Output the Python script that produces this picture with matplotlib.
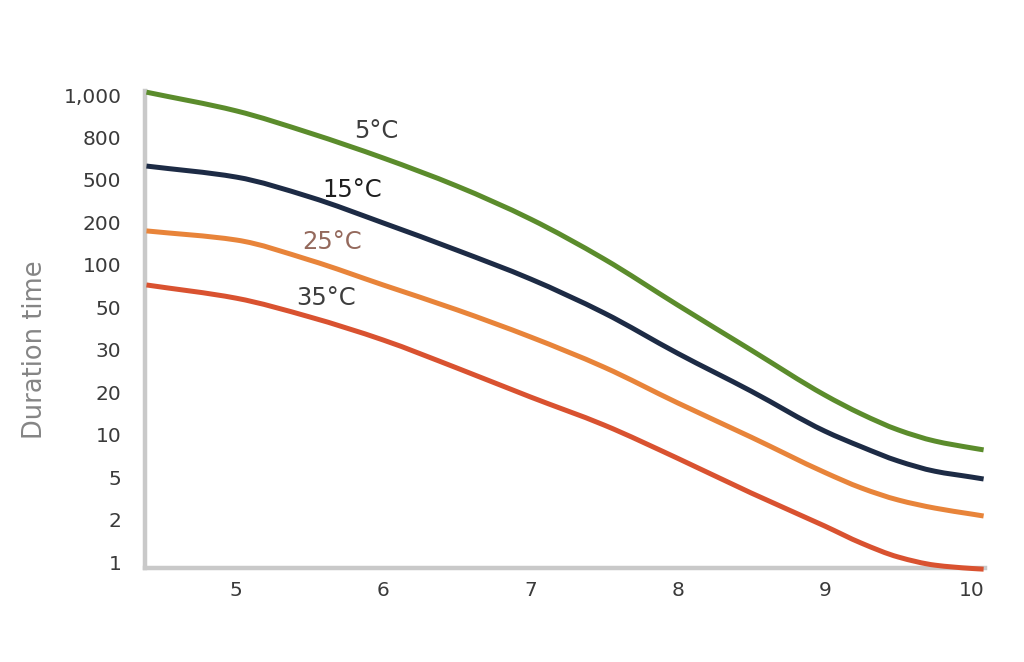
import numpy as np
import matplotlib
matplotlib.use("Agg")
import matplotlib.pyplot as plt
from matplotlib.path import Path
from matplotlib.patches import PathPatch
from matplotlib.ticker import FixedLocator, FixedFormatter, NullLocator

# ---- data ----
ph = [4.39, 5.0, 5.5, 6.0, 6.5, 7.0, 7.5, 8.0, 8.5, 9.0, 9.25, 9.5, 9.75, 10.0, 10.08]
t5 = [1015, 920, 819, 637, 438, 215, 110, 51.9, 29.9, 19.1, 14.0, 10.8, 9.0, 8.05, 7.8]
t15 = [583, 516, 346, 198, 127, 79.4, 46.7, 29.0, 20.2, 10.6, 8.2, 6.5, 5.5, 5.0, 4.8]
t25 = [174, 150, 108, 71.9, 48.5, 35, 25.4, 16.8, 9.6, 5.4, 3.95, 3.05, 2.56, 2.25, 2.16]
t35 = [72, 58, 44.5, 33.7, 25.2, 18.5, 11.7, 6.8, 3.55, 1.80, 1.36, 1.085, 0.95, 0.9, 0.89]

series_labels = ["5°C", "15°C", "25°C", "35°C"]
label_x = [5.95, 5.79, 5.65, 5.61]
label_y = [828, 401, 146, 58]

y_ticks = [1, 2, 5, 10, 20, 30, 50, 100, 200, 500, 800, 1000]
y_tick_labels = ["1", "2", "5", "10", "20", "30", "50", "100", "200", "500", "800", "1,000"]
x_ticks = [5, 6, 7, 8, 9, 10]
y_axis_label = "Duration time"

# ---- styles ----
colors = ["#5b8c2c", "#1d2b45", "#e8843a", "#d95230"]
label_colors = ["#3d3d3d", "#1e1e1e", "#94695c", "#3d3d3d"]

LOGT = np.log10(np.array(y_ticks, dtype=float))
IDX = np.arange(len(y_ticks), dtype=float)


def fwd(v):
    v = np.asarray(v, dtype=float)
    lv = np.log10(np.clip(v, 1e-9, None))
    out = np.interp(lv, LOGT, IDX)
    out = np.where(lv < LOGT[0], (lv - LOGT[0]) / (LOGT[1] - LOGT[0]), out)
    out = np.where(lv > LOGT[-1], IDX[-1] + (lv - LOGT[-1]) / (LOGT[-1] - LOGT[-2]), out)
    return out


def inv(i):
    i = np.asarray(i, dtype=float)
    out = np.interp(i, IDX, LOGT)
    out = np.where(i < 0, LOGT[0] + i * (LOGT[1] - LOGT[0]), out)
    out = np.where(i > IDX[-1], LOGT[-1] + (i - IDX[-1]) * (LOGT[-1] - LOGT[-2]), out)
    return 10 ** out


def smooth_path(xs, ys):
    """Monotone (PCHIP-style) Bezier path through the data points, built in
    the axis' scaled coordinates (x, scale(y))."""
    x = np.asarray(xs, dtype=float)
    y = fwd(ys)
    h = np.diff(x)
    d = np.diff(y) / h
    n = len(x)
    m = np.empty(n)
    m[0], m[-1] = d[0], d[-1]
    for k in range(1, n - 1):
        if d[k - 1] * d[k] <= 0:
            m[k] = 0.0
        else:
            w1 = 2 * h[k] + h[k - 1]
            w2 = h[k] + 2 * h[k - 1]
            m[k] = (w1 + w2) / (w1 / d[k - 1] + w2 / d[k])
    verts = [(x[0], y[0])]
    codes = [Path.MOVETO]
    for k in range(n - 1):
        dx = h[k]
        verts += [(x[k] + dx / 3, y[k] + m[k] * dx / 3),
                  (x[k + 1] - dx / 3, y[k + 1] - m[k + 1] * dx / 3),
                  (x[k + 1], y[k + 1])]
        codes += [Path.CURVE4] * 3
    return Path(verts, codes)


plt.rcParams["font.family"] = ["DejaVu Sans"]

fig = plt.figure(figsize=(10.24, 6.62), dpi=100)
ax = fig.add_axes([0.1416, 0.1414, 0.8204, 0.7215])
ax.set_yscale("function", functions=(fwd, inv))
ax.set_xlim(4.38, 10.09)
ax.set_ylim(inv(-0.15), inv(11.1))

scaled_to_px = ax.transLimits + ax.transAxes
for ys, c in zip([t5, t15, t25, t35], colors):
    # invisible line keeps the series as a regular plotted artist
    ax.plot(ph, ys, color=c, lw=0, alpha=0)
    ax.add_patch(PathPatch(smooth_path(ph, ys), transform=scaled_to_px,
                           facecolor="none", edgecolor=c, lw=3.6,
                           capstyle="butt", joinstyle="round", zorder=3,
                           clip_on=False))

for txt, lx, ly, lc in zip(series_labels, label_x, label_y, label_colors):
    ax.text(lx, ly, txt, color=lc, fontsize=17.5, ha="center", va="center", zorder=4)

ax.yaxis.set_major_locator(FixedLocator(y_ticks))
ax.yaxis.set_major_formatter(FixedFormatter(y_tick_labels))
ax.yaxis.set_minor_locator(NullLocator())
ax.set_xticks(x_ticks)
ax.set_xticklabels([str(v) for v in x_ticks])

ax.tick_params(axis="both", length=0, labelsize=14.5, colors="#3a3a3a")
ax.tick_params(axis="y", pad=17)
ax.tick_params(axis="x", pad=9)

for s in ["top", "right"]:
    ax.spines[s].set_visible(False)
for s in ["left", "bottom"]:
    ax.spines[s].set_color("#c9c9c9")
    ax.spines[s].set_linewidth(3.2)

fig.text(35 / 1024, 1 - 350 / 662, y_axis_label, rotation=90, ha="center", va="center",
         fontsize=18.5, color="#858585")

fig.savefig("out.png", dpi=100, facecolor="white")
